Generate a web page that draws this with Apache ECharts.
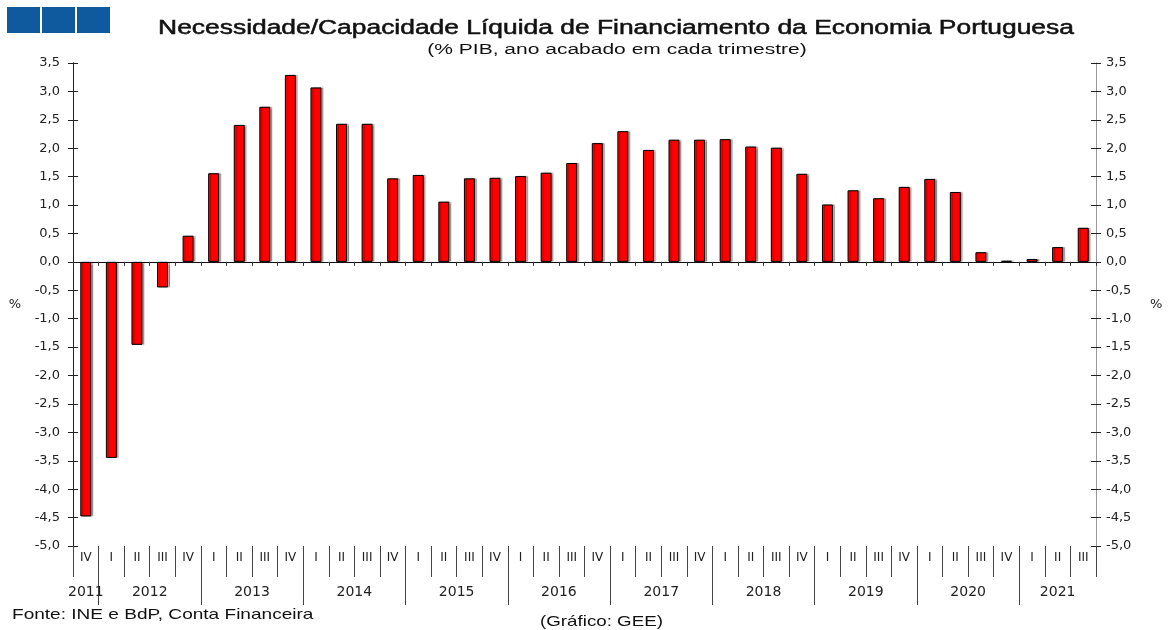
<!DOCTYPE html>
<html><head><meta charset="utf-8">
<script src="https://cdn.jsdelivr.net/npm/echarts@6/dist/echarts.min.js"></script>
<style>html,body{margin:0;padding:0;background:#fff}#c{width:1170px;height:630px}</style>
</head><body><div id="c"></div>
<script>
// ---- data ----
const quarters = ['IV',
 'I','II','III','IV', 'I','II','III','IV', 'I','II','III','IV', 'I','II','III','IV',
 'I','II','III','IV', 'I','II','III','IV', 'I','II','III','IV', 'I','II','III','IV',
 'I','II','III','IV', 'I','II','III'];
const years = ['2011','2012','2013','2014','2015','2016','2017','2018','2019','2020','2021'];
const quartersPerYear = [1,4,4,4,4,4,4,4,4,4,3];
const values = [-4.48,
 -3.45,-1.46,-0.45,0.46,
 1.56,2.41,2.73,3.29,
 3.07,2.43,2.43,1.47,
 1.53,1.06,1.47,1.48,
 1.51,1.57,1.74,2.09,
 2.30,1.97,2.15,2.15,
 2.16,2.03,2.01,1.55,
 1.01,1.26,1.12,1.32,
 1.46,1.23,0.17,0.02,
 0.05,0.26,0.60];
const yTicksMin = -5.0, yTicksMax = 3.5, yStep = 0.5;
const titleText = 'Necessidade/Capacidade Líquida de Financiamento da Economia Portuguesa';
const subtitleText = '(% PIB, ano acabado em cada trimestre)';
const sourceText = 'Fonte: INE e BdP, Conta Financeira';
const creditText = '(Gráfico: GEE)';

// ---- derived half-step axis for year labels / separators ----
const nHalf = quarters.length * 2;
const halfCats = [];
for (let i = 0; i <= nHalf; i++) halfCats.push(String(i));
const yearLabelAt = {}, yearSepAt = {};
let pos = 0;
years.forEach((y, k) => {
  const n = quartersPerYear[k];
  yearLabelAt[pos + n] = y;
  pos += 2 * n;
  if (pos < nHalf) yearSepAt[pos] = true;
});

const FONT = '"Liberation Sans", Arial, sans-serif';
const AFONT = '"DejaVu Sans", sans-serif';
const fmt = v => v.toFixed(1).replace('.', ',');

const chart = echarts.init(document.getElementById('c'));
const yBase = (posn, inside, labels, color) => ({
  type: 'value', position: posn, min: yTicksMin, max: yTicksMax, interval: yStep,
  axisLine: { show: true, onZero: false, lineStyle: { color: color, width: 1 } },
  axisTick: { show: true, inside: inside, length: 5, lineStyle: { color: '#222' } },
  axisLabel: { show: labels, formatter: fmt, color: '#222', fontSize: 13, fontFamily: AFONT, margin: 13 },
  splitLine: { show: false }
});
const yL = yBase('left', false, true, '#222');
yL.name = '%'; yL.nameLocation = 'middle'; yL.nameRotate = 0; yL.nameGap = 52;
yL.nameTextStyle = { color: '#222', fontSize: 13, fontFamily: AFONT };
const yR = yBase('right', false, true, '#999');
yR.axisLabel.margin = 10;
yR.name = '%'; yR.nameLocation = 'middle'; yR.nameRotate = 0; yR.nameGap = 54;
yR.nameTextStyle = { color: '#222', fontSize: 13, fontFamily: AFONT, padding: [14, 0, 0, 0] };

const txt = (t, x, y, size, sx, align, strokeW) => ({
  type: 'text', x: x, y: y, scaleX: sx, silent: true,
  style: { text: t, font: size + 'px ' + FONT, fill: '#111',
    stroke: strokeW ? '#111' : null, lineWidth: strokeW || 0,
    align: align, verticalAlign: 'middle' }
});

chart.setOption({
  animation: false,
  backgroundColor: '#fff',
  graphic: [
    { type: 'rect', shape: { x: 7, y: 7, width: 33, height: 26 }, style: { fill: '#0f5a9e' } },
    { type: 'rect', shape: { x: 42, y: 7, width: 33, height: 26 }, style: { fill: '#0f5a9e' } },
    { type: 'rect', shape: { x: 77, y: 7, width: 33, height: 26 }, style: { fill: '#0f5a9e' } },
    txt(titleText, 616, 28, 20, 1.32, 'center', 0.5),
    txt(subtitleText, 617, 50, 14, 1.5, 'center'),
    txt(sourceText, 12, 615, 15, 1.27, 'left'),
    txt(creditText, 540, 622, 15, 1.25, 'left')
  ],
  grid: { left: 73, right: 74, top: 63, bottom: 84, containLabel: false },
  xAxis: [
    { type: 'category', data: quarters, position: 'bottom',
      axisLine: { show: true, onZero: true, lineStyle: { color: '#111' } },
      axisTick: { show: true, length: 4, interval: 0, lineStyle: { color: '#333' } },
      axisLabel: { show: false } },
    { type: 'category', data: quarters, position: 'bottom',
      axisLine: { show: false, onZero: false },
      axisTick: { show: true, length: 31, interval: 0, lineStyle: { color: '#444' } },
      axisLabel: { show: true, interval: 0, margin: 6, fontSize: 12, color: '#222', fontFamily: AFONT } },
    { type: 'category', data: halfCats, boundaryGap: false, position: 'bottom',
      axisLine: { show: false, onZero: false },
      axisTick: { show: true, length: 59, interval: (i) => !!yearSepAt[i], lineStyle: { color: '#444' } },
      axisLabel: { show: true, interval: (i) => yearLabelAt[i] !== undefined,
        formatter: (v) => yearLabelAt[+v] || '', margin: 39, fontSize: 14, color: '#222', fontFamily: AFONT } }
  ],
  yAxis: [ yL, yR, yBase('left', true, false, '#222'), yBase('right', true, false, '#999') ],
  series: [{
    type: 'bar', xAxisIndex: 0, yAxisIndex: 0, data: values, barWidth: 11,
    itemStyle: { color: '#ff0000', borderColor: '#000', borderWidth: 1,
      shadowColor: 'rgba(0,0,0,0.3)', shadowOffsetX: 2, shadowOffsetY: 0, shadowBlur: 1 }
  }]
});
</script></body></html>
